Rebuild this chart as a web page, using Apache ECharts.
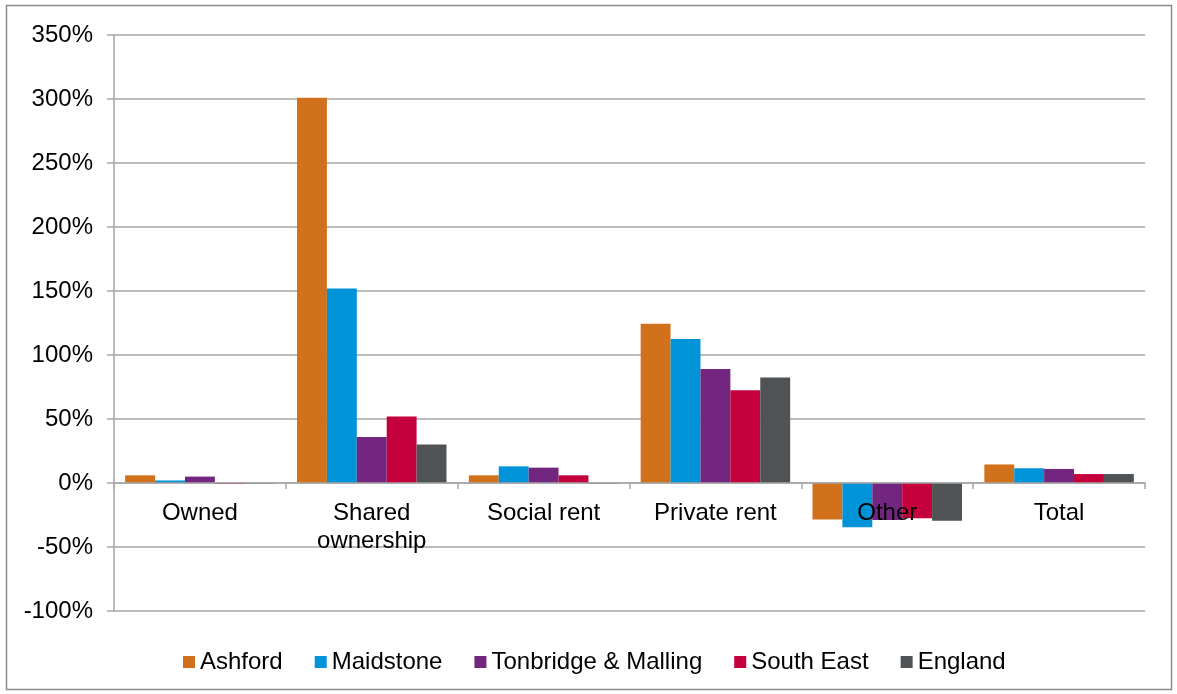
<!DOCTYPE html>
<html>
<head>
<meta charset="utf-8">
<style>
  html, body { margin: 0; padding: 0; background: #ffffff; }
  #chart { width: 1177px; height: 694px; }
</style>
<script src="https://cdn.jsdelivr.net/npm/echarts@6/dist/echarts.min.js"></script>
</head>
<body>
<div id="chart"></div>
<script>
// Change in households by tenure
const categories = ['Owned', 'Shared\nownership', 'Social rent', 'Private rent', 'Other', 'Total'];
const ashford    = [6, 301, 6, 124.5, -28.5, 14.5];
const maidstone  = [2, 152, 13, 112.5, -34.5, 11.5];
const tonbridge  = [5, 36, 12, 89, -29, 11];
const southEast  = [-0.8, 52, 6, 72.5, -27.5, 7];
const england    = [-0.5, 30, -0.5, 82.5, -29.5, 7];
const yTicks = { min: -100, max: 350, step: 50 };

const font = 'Liberation Sans, Arial, sans-serif';
const gridColor = '#a6a6a6';

const seriesDefs = [
  { name: 'Ashford', data: ashford, color: '#d2711c' },
  { name: 'Maidstone', data: maidstone, color: '#0093d8' },
  { name: 'Tonbridge & Malling', data: tonbridge, color: '#73267f' },
  { name: 'South East', data: southEast, color: '#c4003d' },
  { name: 'England', data: england, color: '#505356' }
];

// plot box
const gridTop = 35, gridBottom = 83, chartH = 694;
const plotH = chartH - gridTop - gridBottom;
// the category axis sits on the 0% line, so shift it up from the plot bottom
const zeroShift = plotH * (0 - yTicks.min) / (yTicks.max - yTicks.min);

const chart = echarts.init(document.getElementById('chart'), null, { renderer: 'canvas' });

chart.setOption({
  animation: false,
  backgroundColor: '#ffffff',
  textStyle: { fontFamily: font },
  graphic: [{
    type: 'rect',
    shape: { x: 6.5, y: 5.5, width: 1165, height: 684 },
    style: { fill: 'none', stroke: '#8c8c8c', lineWidth: 1.5 },
    silent: true
  }],
  grid: { left: 114, right: 32, top: gridTop, bottom: gridBottom, containLabel: false },
  legend: {
    left: 178,
    top: 645,
    itemWidth: 12,
    itemHeight: 12,
    itemGap: 32,
    icon: 'rect',
    textStyle: { fontSize: 24, color: '#000000', fontFamily: font },
    data: seriesDefs.map(s => s.name)
  },
  xAxis: {
    type: 'category',
    data: categories,
    z: 10,
    boundaryGap: true,
    offset: -zeroShift,
    axisLine: { onZero: false, lineStyle: { color: gridColor, width: 1.5 } },
    axisTick: { show: true, length: 6, lineStyle: { color: gridColor, width: 1.5 } },
    axisLabel: {
      fontSize: 24,
      color: '#000000',
      fontFamily: font,
      margin: 16,
      lineHeight: 28,
      interval: 0
    }
  },
  yAxis: {
    type: 'value',
    min: yTicks.min,
    max: yTicks.max,
    interval: yTicks.step,
    axisLine: { show: true, lineStyle: { color: gridColor, width: 1.5 } },
    axisTick: { show: true, length: 7, lineStyle: { color: gridColor, width: 1.5 } },
    splitLine: { show: true, lineStyle: { color: gridColor, width: 1.5 } },
    axisLabel: {
      fontSize: 24,
      color: '#000000',
      fontFamily: font,
      margin: 21,
      formatter: v => v + '%'
    }
  },
  series: seriesDefs.map(s => ({
    name: s.name,
    type: 'bar',
    data: s.data,
    barGap: '0%',
    barCategoryGap: '13%',
    itemStyle: { color: s.color }
  }))
});
</script>
</body>
</html>
